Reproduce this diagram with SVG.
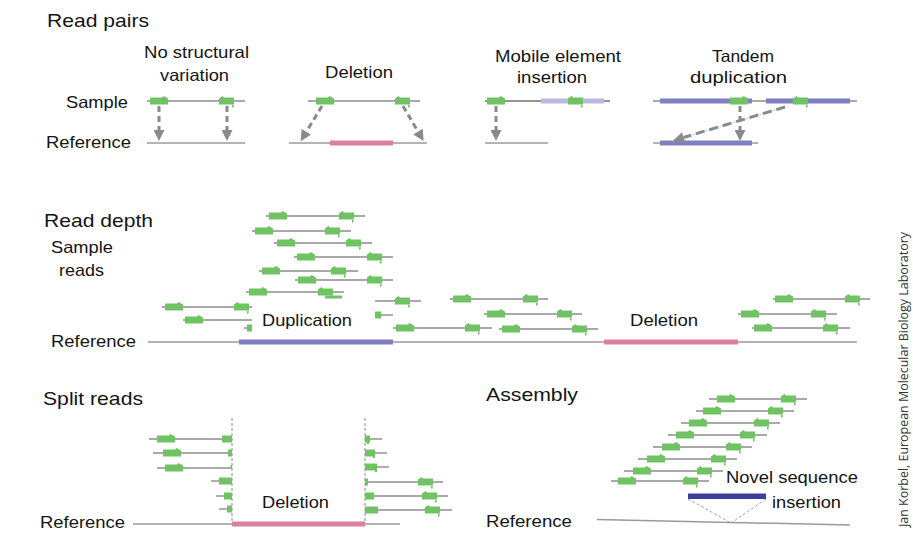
<svg xmlns="http://www.w3.org/2000/svg" xmlns:xlink="http://www.w3.org/1999/xlink" width="913" height="534" viewBox="0 0 913 534">
<style>
text{font-family:"Liberation Sans",Arial,Helvetica,sans-serif;fill:#141414}
.h{font-size:18.5px}
.t{font-size:16.5px}
.rd{stroke:#8c8c8c;stroke-width:1.4;fill:none}
.ref{stroke:#9a9a9a;stroke-width:1.5;fill:none}
.g{fill:#6fc363}
.pur{fill:#8080c0}
.lav{fill:#b9b9de}
.pink{fill:#db7f9e}
.nov{fill:#3f3f9b}
.arr{stroke:#8a8a8a;stroke-width:3;stroke-dasharray:6,4;fill:none}
.vd{stroke:#8c8c8c;stroke-width:1;stroke-dasharray:3,2;fill:none}
.thin{stroke:#9a9a9a;stroke-width:0.9;stroke-dasharray:3,2;fill:none}
</style>
<defs>
<path id="gf" class="g" d="M0,-3.5 H12 L13.5,-5 L18,-2.5 V3.5 H0 Z"/>
<path id="gr" class="g" d="M15,-3.5 H5 L3.5,-5 L0,-2.5 V3.5 H15 Z M13,3 h1.6 v3.5 h-1.6 Z"/>
<marker id="ah" viewBox="0 0 10 10" refX="0" refY="5" markerWidth="12" markerHeight="11" markerUnits="userSpaceOnUse" orient="auto">
<path d="M0,0 L10,5 L0,10 Z" fill="#8a8a8a"/>
</marker>
</defs>
<rect width="913" height="534" fill="#fff"/>

<!-- Read pairs -->
<g id="read-pairs">
<text class="h" x="47" y="27" textLength="102" lengthAdjust="spacingAndGlyphs">Read pairs</text>
<text class="t" x="66" y="108" textLength="62" lengthAdjust="spacingAndGlyphs">Sample</text>
<text class="t" x="46" y="148" textLength="85" lengthAdjust="spacingAndGlyphs">Reference</text>
</g>
<g id="rp-none">
<text class="t" x="144" y="58" textLength="105" lengthAdjust="spacingAndGlyphs">No structural</text>
<text class="t" x="160" y="81" textLength="69" lengthAdjust="spacingAndGlyphs">variation</text>
<line class="rd" x1="147" y1="101" x2="245" y2="101"/>
<use xlink:href="#gf" x="150" y="101"/>
<use xlink:href="#gr" x="219" y="101"/>
<line class="ref" x1="147" y1="143" x2="245" y2="143"/>
</g>
<g id="rp-deletion">
<text class="t" x="325" y="78" textLength="68" lengthAdjust="spacingAndGlyphs">Deletion</text>
<line class="rd" x1="308" y1="101" x2="420" y2="101"/>
<use xlink:href="#gf" x="316" y="101"/>
<use xlink:href="#gr" x="395" y="101"/>
<line class="ref" x1="289" y1="143" x2="427" y2="143"/>
<rect class="pink" x="330" y="140.5" width="63" height="5"/>
</g>
<g id="rp-mobile">
<text class="t" x="495" y="62" textLength="126" lengthAdjust="spacingAndGlyphs">Mobile element</text>
<text class="t" x="517" y="83" textLength="70" lengthAdjust="spacingAndGlyphs">insertion</text>
<line class="rd" x1="485" y1="101" x2="610" y2="101" style="stroke:#707070"/>
<rect class="lav" x="541" y="98.5" width="63" height="5"/>
<use xlink:href="#gf" x="487" y="101"/>
<use xlink:href="#gr" x="568" y="101"/>
<line class="ref" x1="485" y1="143" x2="548" y2="143"/>
</g>
<g id="rp-tandem">
<text class="t" x="712" y="62" textLength="62" lengthAdjust="spacingAndGlyphs">Tandem</text>
<text class="t" x="690" y="83" textLength="97" lengthAdjust="spacingAndGlyphs">duplication</text>
<line class="rd" x1="653" y1="101" x2="857" y2="101"/>
<rect class="pur" x="660" y="98.5" width="92" height="5"/>
<rect class="pur" x="766" y="98.5" width="84" height="5"/>
<use xlink:href="#gf" x="730" y="101"/>
<use xlink:href="#gr" x="793" y="101"/>
<line class="ref" x1="653" y1="143" x2="758" y2="143"/>
<rect class="pur" x="660" y="140.5" width="92" height="5"/>
</g>

<g id="connectors">
<line class="arr" x1="159" y1="106" x2="159" y2="130" marker-end="url(#ah)"/>
<line class="arr" x1="227" y1="106" x2="227" y2="130" marker-end="url(#ah)"/>
<line class="arr" x1="322" y1="106" x2="306.3" y2="131.8" marker-end="url(#ah)"/>
<line class="arr" x1="403" y1="106" x2="418" y2="131.6" marker-end="url(#ah)"/>
<line class="arr" x1="496" y1="106" x2="496" y2="130" marker-end="url(#ah)"/>
<line class="arr" x1="740" y1="106" x2="740" y2="130" marker-end="url(#ah)"/>
<line x1="785" y1="107" x2="672" y2="141" stroke="#a9dbe6" stroke-width="0.9"/>
<line class="arr" x1="785" y1="107" x2="683.5" y2="137.5" marker-end="url(#ah)" style="stroke-dasharray:9,5"/>
<line class="vd" x1="232" y1="418" x2="232" y2="524"/>
<line class="vd" x1="365" y1="418" x2="365" y2="524"/>
<line class="thin" x1="688" y1="499" x2="731" y2="523"/>
<line class="thin" x1="766" y1="499" x2="731" y2="523"/>
</g>

<!-- Read depth -->
<g id="read-depth">
<text class="h" x="44" y="227" textLength="109" lengthAdjust="spacingAndGlyphs">Read depth</text>
<text class="t" x="51" y="253" textLength="62" lengthAdjust="spacingAndGlyphs">Sample</text>
<text class="t" x="59" y="276" textLength="45" lengthAdjust="spacingAndGlyphs">reads</text>
<text class="t" x="51" y="347" textLength="85" lengthAdjust="spacingAndGlyphs">Reference</text>
<g id="depth-reads">
<line class="rd" x1="266" y1="216" x2="365" y2="216"/><use xlink:href="#gf" x="269" y="216"/><use xlink:href="#gr" x="339" y="216"/>
<line class="rd" x1="252" y1="231" x2="351" y2="231"/><use xlink:href="#gf" x="255" y="231"/><use xlink:href="#gr" x="325" y="231"/>
<line class="rd" x1="274" y1="243" x2="372" y2="243"/><use xlink:href="#gf" x="277" y="243"/><use xlink:href="#gr" x="346" y="243"/>
<line class="rd" x1="294" y1="257" x2="393" y2="257"/><use xlink:href="#gf" x="297" y="257"/><use xlink:href="#gr" x="367" y="257"/>
<line class="rd" x1="259" y1="271" x2="358" y2="271"/><use xlink:href="#gf" x="262" y="271"/><use xlink:href="#gr" x="331" y="271"/>
<line class="rd" x1="295" y1="280" x2="393" y2="280"/><use xlink:href="#gf" x="298" y="280"/><use xlink:href="#gr" x="367" y="280"/>
<line class="rd" x1="246" y1="292" x2="344" y2="292"/><use xlink:href="#gf" x="249" y="292"/><use xlink:href="#gr" x="318" y="292"/>
<rect class="g" x="325" y="295.5" width="17" height="3"/>
<line class="rd" x1="162" y1="307" x2="252" y2="307"/><use xlink:href="#gf" x="165" y="307"/><use xlink:href="#gr" x="234" y="307"/>
<line class="rd" x1="183" y1="320" x2="252" y2="320"/><use xlink:href="#gf" x="185" y="320"/>
<line class="rd" x1="244" y1="328" x2="252" y2="328"/><rect class="g" x="247" y="324.5" width="5" height="7"/>
<line class="rd" x1="375" y1="301" x2="421" y2="301"/><use xlink:href="#gr" x="395" y="301"/>
<line class="rd" x1="375" y1="315" x2="393" y2="315"/><rect class="g" x="375" y="311.5" width="6" height="7"/>
<line class="rd" x1="393" y1="328" x2="492" y2="328"/><use xlink:href="#gf" x="396" y="328"/><use xlink:href="#gr" x="465" y="328"/>
<line class="rd" x1="450" y1="299" x2="548" y2="299"/><use xlink:href="#gf" x="453" y="299"/><use xlink:href="#gr" x="523" y="299"/>
<line class="rd" x1="484" y1="314" x2="582" y2="314"/><use xlink:href="#gf" x="487" y="314"/><use xlink:href="#gr" x="557" y="314"/>
<line class="rd" x1="499" y1="329" x2="598" y2="329"/><use xlink:href="#gf" x="502" y="329"/><use xlink:href="#gr" x="572" y="329"/>
<line class="rd" x1="773" y1="299" x2="870" y2="299"/><use xlink:href="#gf" x="775" y="299"/><use xlink:href="#gr" x="845" y="299"/>
<line class="rd" x1="738" y1="314" x2="837" y2="314"/><use xlink:href="#gf" x="741" y="314"/><use xlink:href="#gr" x="811" y="314"/>
<line class="rd" x1="752" y1="328" x2="850" y2="328"/><use xlink:href="#gf" x="754" y="328"/><use xlink:href="#gr" x="823" y="328"/>
</g>
<line class="ref" x1="148" y1="342" x2="857" y2="342"/>
<rect class="pur" x="239" y="339.5" width="154" height="5"/>
<rect class="pink" x="604" y="339.5" width="134" height="5"/>
<text class="t" x="262" y="326" textLength="90" lengthAdjust="spacingAndGlyphs">Duplication</text>
<text class="t" x="630" y="326" textLength="68" lengthAdjust="spacingAndGlyphs">Deletion</text>
</g>

<!-- Split reads -->
<g id="split-reads">
<text class="h" x="43" y="405" textLength="100" lengthAdjust="spacingAndGlyphs">Split reads</text>
<text class="t" x="40" y="528" textLength="85" lengthAdjust="spacingAndGlyphs">Reference</text>
<line class="ref" x1="133" y1="524" x2="400" y2="524"/>
<rect class="pink" x="232" y="521.5" width="133" height="5"/>
<text class="t" x="262" y="508" textLength="67" lengthAdjust="spacingAndGlyphs">Deletion</text>
<line class="rd" x1="149" y1="439" x2="232" y2="439"/><use xlink:href="#gf" x="157" y="439"/><rect class="g" x="222" y="435.5" width="10" height="7"/>
<line class="rd" x1="153" y1="453" x2="232" y2="453"/><use xlink:href="#gf" x="163" y="453"/><rect class="g" x="228" y="449.5" width="4" height="7"/>
<line class="rd" x1="157" y1="468" x2="232" y2="468"/><use xlink:href="#gf" x="165" y="468"/><rect class="g" x="230.5" y="465" width="1.5" height="4"/>
<line class="rd" x1="211" y1="481" x2="232" y2="481"/><rect class="g" x="219" y="477.5" width="13" height="7"/>
<line class="rd" x1="216" y1="496" x2="232" y2="496"/><rect class="g" x="224" y="492.5" width="8" height="7"/>
<line class="rd" x1="219" y1="509" x2="232" y2="509"/><rect class="g" x="227" y="505.5" width="5" height="7"/>
<line class="rd" x1="365" y1="439" x2="382" y2="439"/><rect class="g" x="365" y="435.5" width="5" height="7"/><rect class="g" x="367" y="440" width="2" height="4"/>
<line class="rd" x1="365" y1="453" x2="387" y2="453"/><rect class="g" x="365" y="449.5" width="10" height="7"/><rect class="g" x="373" y="454" width="2" height="4"/>
<line class="rd" x1="365" y1="467" x2="389" y2="467"/><rect class="g" x="365" y="463.5" width="12" height="7"/><rect class="g" x="375" y="468" width="2" height="4"/>
<line class="rd" x1="365" y1="482" x2="443" y2="482"/><rect class="g" x="365" y="478.5" width="3" height="7"/><use xlink:href="#gr" x="418" y="482"/>
<line class="rd" x1="365" y1="496" x2="448" y2="496"/><rect class="g" x="365" y="492.5" width="9" height="7"/><use xlink:href="#gr" x="422" y="496"/>
<line class="rd" x1="365" y1="510" x2="452" y2="510"/><rect class="g" x="365" y="506.5" width="13" height="7"/><use xlink:href="#gr" x="425" y="510"/>
</g>

<!-- Assembly -->
<g id="assembly">
<text class="h" x="486" y="401" textLength="92" lengthAdjust="spacingAndGlyphs">Assembly</text>
<text class="t" x="486" y="527" textLength="86" lengthAdjust="spacingAndGlyphs">Reference</text>
<line class="rd" x1="709" y1="399" x2="807" y2="399"/><use xlink:href="#gf" x="717" y="399"/><use xlink:href="#gr" x="781" y="399"/>
<line class="rd" x1="696" y1="411" x2="794" y2="411"/><use xlink:href="#gf" x="703" y="411"/><use xlink:href="#gr" x="768" y="411"/>
<line class="rd" x1="681" y1="423" x2="780" y2="423"/><use xlink:href="#gf" x="689" y="423"/><use xlink:href="#gr" x="754" y="423"/>
<line class="rd" x1="668" y1="435" x2="767" y2="435"/><use xlink:href="#gf" x="676" y="435"/><use xlink:href="#gr" x="740" y="435"/>
<line class="rd" x1="653" y1="447" x2="752" y2="447"/><use xlink:href="#gf" x="662" y="447"/><use xlink:href="#gr" x="726" y="447"/>
<line class="rd" x1="638" y1="459" x2="737" y2="459"/><use xlink:href="#gf" x="647" y="459"/><use xlink:href="#gr" x="711" y="459"/>
<line class="rd" x1="624" y1="471" x2="723" y2="471"/><use xlink:href="#gf" x="633" y="471"/><use xlink:href="#gr" x="697" y="471"/>
<line class="rd" x1="611" y1="481" x2="709" y2="481"/><use xlink:href="#gf" x="618" y="481"/><use xlink:href="#gr" x="683" y="481"/>
<text class="t" x="726" y="483" textLength="132" lengthAdjust="spacingAndGlyphs">Novel sequence</text>
<text class="t" x="772" y="508" textLength="69" lengthAdjust="spacingAndGlyphs">insertion</text>
<rect class="nov" x="688" y="493.5" width="78" height="5.5"/>
<line class="ref" x1="597" y1="519.5" x2="850" y2="525"/>
</g>

<g id="credit">
<text transform="translate(908,379.5) rotate(-90)" text-anchor="middle" style="font-family:'Open Sans','Noto Sans',sans-serif;font-size:13.5px;fill:#333" textLength="295" lengthAdjust="spacingAndGlyphs">Jan Korbel, European Molecular Biology Laboratory</text>
</g>
</svg>
